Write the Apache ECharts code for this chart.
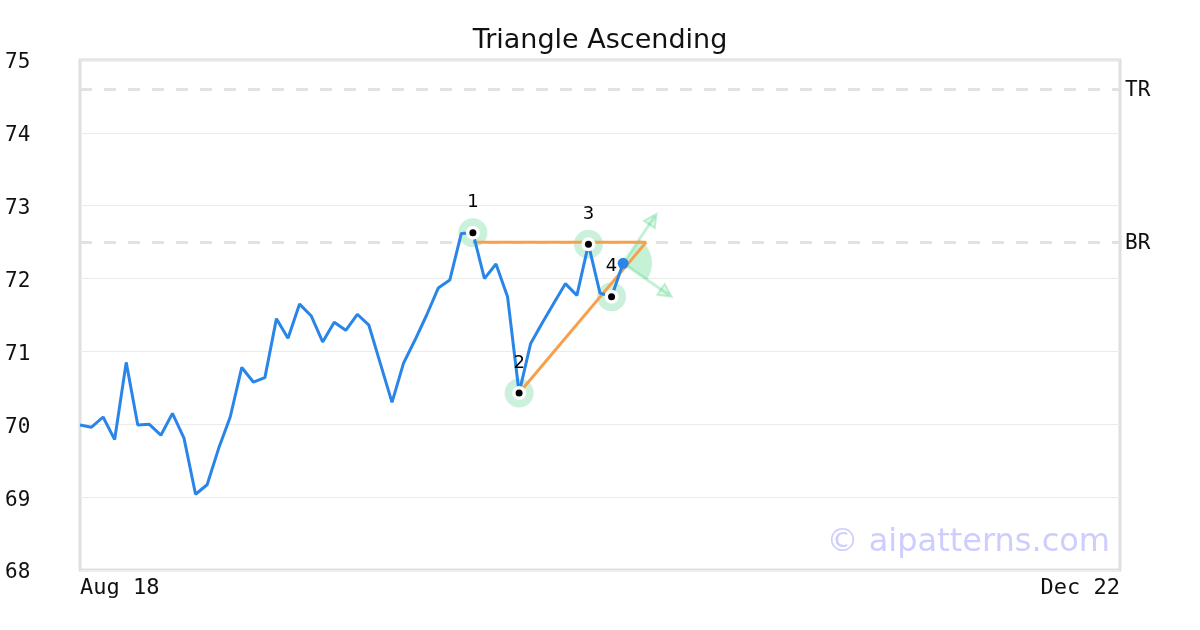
<!DOCTYPE html>
<html><head><meta charset="utf-8">
<script src="https://cdn.jsdelivr.net/npm/echarts@6/dist/echarts.min.js"></script>
<style>html,body{margin:0;padding:0;background:#fff}#c{width:1200px;height:630px}</style>
</head><body><div id="c"></div>
<script>
// ---- data ----
const chartTitle = 'Triangle Ascending';
const prices = [69.99,69.96,70.10,69.79,70.85,69.99,70.00,69.85,70.15,69.81,
  69.04,69.17,69.67,70.10,70.78,70.58,70.64,71.45,71.18,71.65,
  71.49,71.13,71.40,71.29,71.51,71.36,70.83,70.30,70.84,71.16,
  71.50,71.87,71.98,72.62,72.63,72.00,72.20,71.75,70.43,71.11,
  71.39,71.66,71.93,71.77,72.47,71.80,71.75,72.21];
const totalDays = 90;               // trading days from first to last tick
const xTickIndex = [0, 90];
const xTickLabels = ['Aug 18', 'Dec 22'];
const yMin = 68, yMax = 75, yStep = 1;
const pivotIndex = [34, 38, 44, 46];
const pivotValue = [72.63, 70.43, 72.47, 71.75];
const pivotLabel = ['1', '2', '3', '4'];
const levelNames = ['TR', 'BR'];
const levelValues = [74.6, 72.5];
const topTrend = [[34, 72.5], [49, 72.5]];
const bottomTrend = [[38, 70.43], [49, 72.5]];
const projectionTips = [[49.9, 72.89], [51.2, 71.75]];
const watermark = '© aipatterns.com';

// ---- build ----
const lineData = prices.map((v, i) => [i, v]);
const pivots = pivotIndex.map((x, k) => [x, pivotValue[k]]);
const lastPoint = [[prices.length - 1, prices[prices.length - 1]]];
const mono = 'DejaVu Sans Mono';
const sans = 'DejaVu Sans';
const blue = '#2a85e8', orange = '#f7a04b';
const mint = 'rgba(46,204,113,0.28)';

const chart = echarts.init(document.getElementById('c'), null, {renderer: 'canvas'});
chart.setOption({
  animation: false,
  backgroundColor: '#fff',
  title: {
    text: chartTitle, left: 'center', top: 27, padding: 0,
    textStyle: {fontFamily: sans, fontSize: 27, fontWeight: 'normal', color: '#111'}
  },
  grid: {left: 80, right: 80, top: 60, bottom: 60, show: true,
    borderColor: '#e0e0e0', borderWidth: 3, backgroundColor: 'transparent'},
  xAxis: {
    type: 'value', min: 0, max: totalDays, interval: totalDays,
    axisLine: {show: false}, axisTick: {show: false}, splitLine: {show: false},
    axisLabel: {
      margin: 7, fontFamily: mono, fontSize: 22, color: '#111',
      alignMinLabel: 'left', alignMaxLabel: 'right',
      formatter: v => { const k = xTickIndex.indexOf(v); return k >= 0 ? xTickLabels[k] : ''; }
    }
  },
  yAxis: {
    type: 'value', min: yMin, max: yMax, interval: yStep,
    axisLine: {show: false}, axisTick: {show: false},
    splitLine: {show: true, lineStyle: {color: '#ebebeb', width: 1}},
    axisLabel: {margin: 75, align: 'left', verticalAlign: 'top', lineHeight: 6,
      fontFamily: mono, fontSize: 21, color: '#111'}
  },
  graphic: [{
    type: 'text', z: 100, silent: true,
    style: {x: 1110, y: 559, text: watermark, align: 'right', verticalAlign: 'bottom',
      font: '32px "DejaVu Sans"', fill: '#cdcdff'}
  }],
  series: [
    { // reference levels
      type: 'line', data: [], z: 1, silent: true,
      markLine: {
        z: 1, silent: true, symbol: ['none', 'none'], animation: false,
        lineStyle: {color: '#e2e2e2', width: 3, type: [12, 12]},
        label: {show: true, position: 'end', distance: 5, formatter: '{b}',
          verticalAlign: 'top', lineHeight: 3,
          fontFamily: mono, fontSize: 21, color: '#111'},
        data: levelValues.map((v, k) => ({yAxis: v, name: levelNames[k]}))
      }
    },
    { // pivot halos
      type: 'scatter', data: pivots, symbolSize: 29, z: 2, silent: true,
      itemStyle: {color: '#cbf0dc', opacity: 1}
    },
    { // projection wedge + arrows
      type: 'custom', z: 2, silent: true, data: lastPoint,
      renderItem: function (params, api) {
        const c = api.coord([api.value(0), api.value(1)]);
        const t1 = api.coord(projectionTips[0]);
        const t2 = api.coord(projectionTips[1]);
        const a1 = Math.atan2(t1[1] - c[1], t1[0] - c[0]);
        const a2 = Math.atan2(t2[1] - c[1], t2[0] - c[0]);
        function arrow(t, a) {
          const L = 13, W = 6.5;
          const bx = t[0] - L * Math.cos(a), by = t[1] - L * Math.sin(a);
          const px = -Math.sin(a) * W, py = Math.cos(a) * W;
          return [
            {type: 'line', shape: {x1: c[0], y1: c[1], x2: t[0] - 3 * Math.cos(a), y2: t[1] - 3 * Math.sin(a)},
              style: {stroke: mint, lineWidth: 3}},
            {type: 'polygon', shape: {points: [[t[0], t[1]], [bx + px, by + py], [bx - px, by - py]]},
              style: {fill: 'rgba(46,204,113,0.15)', stroke: mint, lineWidth: 2}}
          ];
        }
        return {type: 'group', children: [
          {type: 'sector', shape: {cx: c[0], cy: c[1], r: 29, r0: 0, startAngle: a1, endAngle: a2, clockwise: true},
            style: {fill: mint}}
        ].concat(arrow(t1, a1), arrow(t2, a2))};
      }
    },
    { // top trendline
      type: 'line', data: topTrend, showSymbol: false, z: 3, silent: true,
      lineStyle: {color: orange, width: 3}
    },
    { // bottom trendline
      type: 'line', data: bottomTrend, showSymbol: false, z: 3, silent: true,
      lineStyle: {color: orange, width: 3}
    },
    { // price
      type: 'line', data: lineData, showSymbol: false, z: 4, silent: true,
      lineStyle: {color: blue, width: 3}
    },
    { // white rings
      type: 'scatter', data: pivots, symbolSize: 14, z: 5, silent: true,
      itemStyle: {color: '#ffffff', opacity: 1}
    },
    { // black dots + labels
      type: 'scatter', data: pivots, symbolSize: 7, z: 6, silent: true,
      itemStyle: {color: '#000000', opacity: 1},
      label: {show: true, position: 'inside', offset: [0, -30],
        formatter: p => pivotLabel[p.dataIndex],
        fontFamily: sans, fontSize: 18, color: '#000'}
    },
    { // last price dot
      type: 'scatter', data: lastPoint, symbolSize: 11, z: 6, silent: true,
      itemStyle: {color: blue, opacity: 1}
    }
  ]
});
</script>
</body></html>
